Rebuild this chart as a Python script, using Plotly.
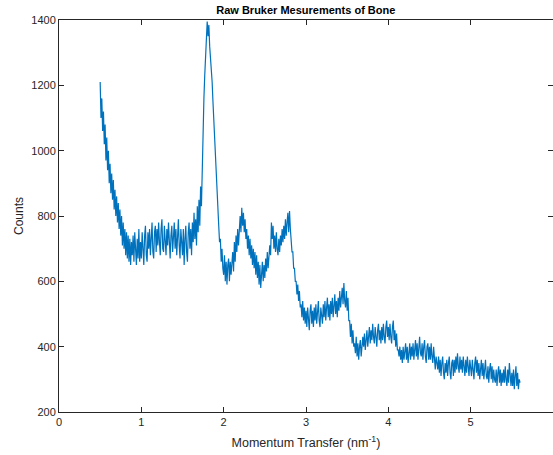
import numpy as np
import plotly.graph_objects as go

# Momentum transfer grid (nm^-1), sampled every 0.01 from 0.50 to 5.60
q_start = 0.50
q_step = 0.01

# Counts, one row per 0.1 nm^-1
counts_rows = [
    [1210, 1100, 1160, 1060, 1120, 1020, 1080, 970, 1040, 940],   # 0.5
    [1000, 900, 960, 870, 930, 850, 910, 820, 880, 800],         # 0.6
    [860, 780, 840, 760, 820, 740, 800, 710, 780, 700],          # 0.7
    [760, 680, 750, 670, 740, 660, 730, 650, 720, 680],          # 0.8
    [740, 660, 750, 690, 650, 730, 670, 760, 660, 720],          # 0.9
    [670, 750, 690, 650, 740, 770, 680, 660, 750, 700],          # 1.0
    [760, 680, 730, 780, 690, 670, 750, 770, 690, 760],          # 1.1
    [710, 780, 720, 680, 760, 790, 700, 690, 770, 720],          # 1.2
    [680, 760, 710, 780, 720, 670, 740, 770, 690, 750],          # 1.3
    [780, 700, 760, 680, 740, 790, 710, 670, 760, 700],          # 1.4
    [680, 760, 650, 730, 770, 690, 660, 750, 780, 700],          # 1.5
    [760, 680, 780, 720, 810, 730, 790, 710, 830, 750],          # 1.6
    [850, 770, 890, 830, 960, 1060, 1160, 1230, 1300, 1370],     # 1.7
    [1395, 1350, 1385, 1320, 1290, 1240, 1210, 1150, 1090, 1020],  # 1.8
    [970, 910, 880, 810, 770, 720, 730, 660, 700, 640],          # 1.9
    [620, 680, 600, 660, 590, 650, 670, 600, 660, 620],          # 2.0
    [660, 690, 630, 720, 660, 740, 690, 760, 710, 780],          # 2.1
    [800, 750, 825, 770, 810, 750, 790, 730, 760, 700],          # 2.2
    [740, 680, 730, 670, 710, 650, 700, 640, 690, 620],          # 2.3
    [680, 610, 660, 590, 650, 580, 640, 660, 600, 650],          # 2.4
    [610, 670, 630, 690, 640, 680, 710, 680, 780, 730],          # 2.5
    [770, 700, 740, 690, 750, 700, 680, 730, 690, 740],          # 2.6
    [710, 760, 720, 770, 730, 790, 740, 780, 810, 750],          # 2.7
    [815, 760, 730, 690, 690, 640, 640, 600, 600, 560],          # 2.8
    [590, 540, 570, 520, 530, 490, 540, 480, 520, 470],          # 2.9
    [510, 460, 520, 480, 450, 510, 530, 470, 510, 460],          # 3.0
    [520, 480, 530, 470, 510, 540, 480, 460, 520, 490],          # 3.1
    [470, 530, 490, 540, 480, 520, 550, 490, 530, 480],          # 3.2
    [540, 500, 550, 490, 530, 560, 500, 540, 490, 550],          # 3.3
    [510, 570, 520, 560, 580, 530, 595, 540, 520, 570],          # 3.4
    [510, 550, 480, 480, 430, 470, 410, 450, 400, 410],          # 3.5
    [380, 430, 370, 410, 360, 400, 420, 370, 410, 430],          # 3.6
    [400, 440, 390, 430, 450, 400, 440, 460, 410, 450],          # 3.7
    [420, 470, 430, 410, 460, 420, 400, 450, 470, 420],          # 3.8
    [450, 410, 460, 420, 470, 430, 410, 460, 480, 430],          # 3.9
    [460, 420, 470, 430, 410, 460, 480, 420, 450, 400],          # 4.0
    [440, 390, 390, 370, 400, 360, 390, 350, 400, 360],          # 4.1
    [390, 410, 360, 400, 350, 390, 410, 360, 400, 370],          # 4.2
    [410, 360, 400, 420, 370, 410, 360, 400, 430, 380],          # 4.3
    [370, 410, 360, 400, 420, 370, 350, 400, 410, 360],          # 4.4
    [400, 360, 410, 370, 350, 400, 360, 330, 370, 340],          # 4.5
    [330, 370, 320, 360, 310, 350, 370, 320, 300, 350],          # 4.6
    [320, 360, 310, 350, 370, 320, 300, 350, 360, 310],          # 4.7
    [360, 320, 370, 330, 380, 340, 320, 370, 330, 360],          # 4.8
    [320, 370, 330, 310, 360, 320, 370, 330, 310, 360],          # 4.9
    [330, 310, 360, 320, 300, 350, 370, 320, 360, 310],          # 5.0
    [350, 300, 340, 360, 310, 350, 300, 340, 360, 310],          # 5.1
    [300, 340, 290, 330, 350, 300, 340, 290, 330, 300],          # 5.2
    [290, 330, 280, 320, 340, 290, 330, 280, 320, 290],          # 5.3
    [330, 290, 340, 300, 280, 330, 290, 350, 300, 280],          # 5.4
    [320, 280, 330, 270, 310, 340, 280, 320, 270, 300],          # 5.5
    [290],                                                       # 5.6
]

x_ticks = [0, 1, 2, 3, 4, 5, 6]
y_ticks = [200, 400, 600, 800, 1000, 1200, 1400]

counts = [c for row in counts_rows for c in row]
q = np.round(q_start + q_step * np.arange(len(counts)), 2)

axis_color = "#262626"
font_family = "Liberation Sans, Arial, Helvetica, sans-serif"

fig = go.Figure()
fig.add_trace(go.Scatter(
    x=q, y=counts, mode="lines",
    line=dict(color="#0072BD", width=1.2),
    hoverinfo="skip", showlegend=False,
))

axis_common = dict(
    showgrid=False, zeroline=False, automargin=False,
    showline=True, linecolor=axis_color, linewidth=1,
    mirror="ticks", ticks="inside", ticklen=5, tickwidth=1, tickcolor=axis_color,
    tickfont=dict(family=font_family, size=11, color=axis_color),
)

fig.update_layout(
    width=553, height=455,
    margin=dict(l=59, r=0, t=20, b=43, autoexpand=False),
    paper_bgcolor="white", plot_bgcolor="white",
    font=dict(family=font_family, color=axis_color),
    title=dict(
        text="<b>Raw Bruker Mesurements of Bone</b>",
        x=0.553, xanchor="center", yref="container", y=0.978, yanchor="middle",
        font=dict(family=font_family, size=11, color="#000000"),
    ),
    xaxis=dict(
        range=[0, 6], tickvals=x_ticks, ticktext=[str(t) for t in x_ticks],
        title=dict(text="Momentum Transfer (nm<sup>-1</sup>)", standoff=11,
                   font=dict(family=font_family, size=12.5, color=axis_color)),
        **axis_common,
    ),
    yaxis=dict(
        range=[200, 1400], tickvals=y_ticks, ticktext=[str(t) for t in y_ticks],
        title=dict(text="Counts", standoff=5,
                   font=dict(family=font_family, size=12, color=axis_color)),
        **axis_common,
    ),
)

fig.write_html(
    "out.html",
    config={"displayModeBar": False, "staticPlot": True},
    post_script="document.body.style.margin='0';document.body.style.overflow='hidden';",
)
